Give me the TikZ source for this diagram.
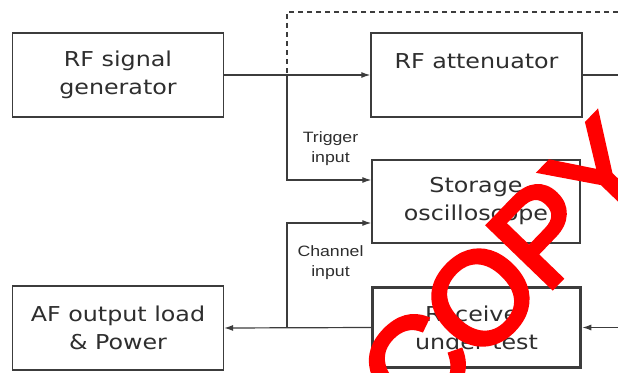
\documentclass[tikz,border=0pt]{standalone}
\usepackage{fontspec}
\usetikzlibrary{arrows.meta}
\newfontfamily\boxfont[FakeStretch=1.16]{DejaVu Sans}
\newfontfamily\lblfont[FakeStretch=1.18]{Liberation Sans}
\newfontfamily\stampfont[FakeBold=3.5,LetterSpace=-3]{Liberation Sans}
\definecolor{linegray}{HTML}{3C3C3C}
\definecolor{textgray}{HTML}{2E2E2E}
\definecolor{stampred}{HTML}{FF0000}
\tikzset{
  block/.style={draw=linegray, line width=1.3pt, minimum width=211pt, minimum height=84pt,
    inner sep=0pt, align=center, text=textgray, font=\boxfont\fontsize{20.5}{28}\selectfont},
  thickblock/.style={block, line width=3.5pt, minimum width=208pt, minimum height=80pt},
  lbl/.style={inner sep=0pt, align=center, text=textgray, font=\lblfont\fontsize{15}{20}\selectfont},
  conn/.style={draw=linegray, line width=1.2pt},
  arr/.style={conn, -{Latex[length=9pt,width=6pt]}},
  dashline/.style={conn, dash pattern=on 5pt off 4pt},
  stamp/.style={inner sep=0pt, text=stampred, font=\stampfont\fontsize{130}{130}\selectfont}
}
\begin{document}
\begin{tikzpicture}[x=1pt,y=-1pt]
\clip (0,0) rectangle (618,372);
\fill[white] (0,0) rectangle (618,372);
% blocks
\node[block] (gen) at (118,75) {RF signal\\generator};
\node[block] (att) at (476.5,75) {RF attenuator\\\mbox{}};
\node[block, minimum width=208pt, minimum height=83pt] (scope) at (476,201.5) {Storage\\oscilloscope};
\node[block] (af) at (118,328) {AF output load\\\& Power};
\node[thickblock] (recv) at (476.5,327.5) {Receiver\\under test};
% points on the lines
\coordinate (split) at (287,75);
\coordinate (tap) at (287,327.5);
\coordinate (outR) at (618,75);
\coordinate (inR) at (618,327.5);
\coordinate (dashR) at (618,12);
% connections
\draw[conn] (gen.east) -- (split);
\draw[arr] (split) -- (att.west);
\draw[conn] (att.east) -- (outR);
\draw[dashline] (dashR) -| (split);
\draw[arr] (split) |- ([yshift=21.5pt]scope.west);
\draw[arr] (tap) |- ([yshift=-21.5pt]scope.west);
\draw[arr] (inR) -- (recv.east);
\draw[arr] (recv.west) -- (af.east);
% labels
\node[lbl] (trig) at (330.5,149) {Trigger\\input};
\node[lbl] (chan) at (330.5,263) {Channel\\input};
% stamp
\node[stamp, anchor=base west, rotate=46] (copy) at (415,430) {COPY};
\end{tikzpicture}
\end{document}
